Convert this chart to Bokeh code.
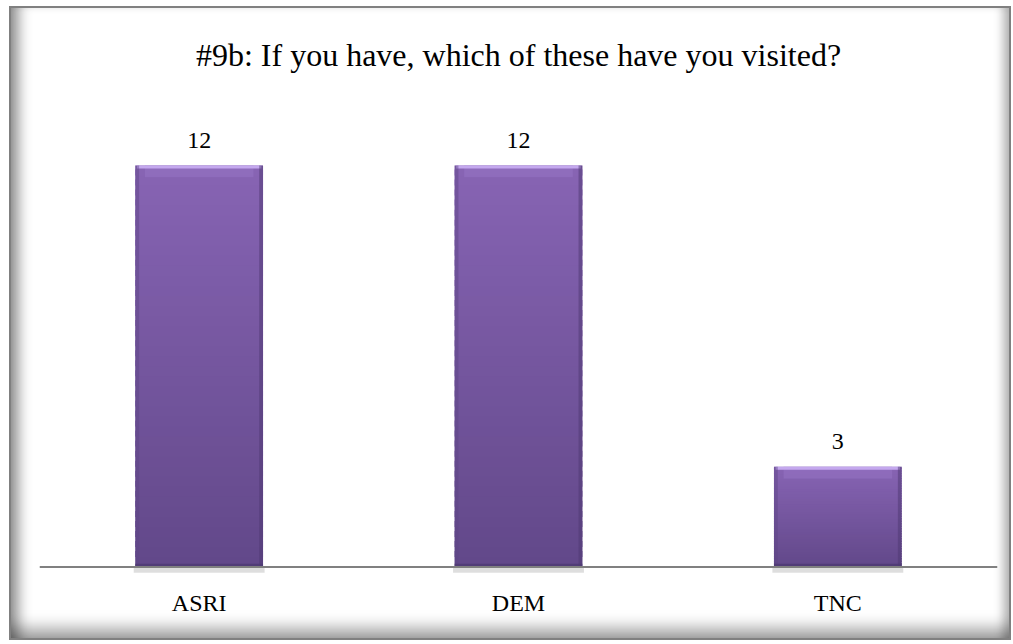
from bokeh.plotting import figure
from bokeh.models import ColumnDataSource, Span
from bokeh.transform import dodge
from bokeh.embed import file_html
from bokeh.resources import INLINE

categories = ["ASRI", "DEM", "TNC"]
counts = [12, 12, 3]
title_text = "#9b: If you have, which of these have you visited?"

BAR_W = 0.4
N = 40
top_rgb = (0x87, 0x64, 0xb4)
bot_rgb = (0x62, 0x48, 0x89)

def mix(a, b, t):
    return "#%02x%02x%02x" % tuple(int(round(a[i] + (b[i] - a[i]) * t)) for i in range(3))

# gradient slices built from the counts
gx, gb, gt, gc = [], [], [], []
for c, v in zip(categories, counts):
    for k in range(N):
        gx.append(c)
        gb.append(v * k / N)
        gt.append(min(v, v * (k + 1.6) / N))
        gc.append(mix(bot_rgb, top_rgb, (k + 0.5) / N))
grad = ColumnDataSource(dict(x=gx, bottom=gb, top=gt, color=gc))

src = ColumnDataSource(dict(
    x=categories,
    top=counts,
    label=[str(v) for v in counts],
    hl_bottom=[v - 0.09 for v in counts],
    zone_bottom=[v - 0.35 for v in counts],
))

p = figure(x_range=categories, y_range=(-0.4, 14), width=998, height=630,
           output_backend="svg", toolbar_location=None,
           min_border_left=28, min_border_right=12, min_border_top=89, min_border_bottom=58)
p.border_fill_color = None
p.background_fill_color = None
p.outline_line_color = None
p.styles = {
    "margin-left": "11px",
    "margin-top": "8px",
    "box-shadow": "0 0 0 2px #808080, inset 16px 0 14px -9px rgba(0,0,0,0.45), inset 0 -20px 16px -10px rgba(0,0,0,0.36), inset -12px 0 10px -6px rgba(0,0,0,0.28)",
}

# soft shadow under bars
p.vbar(x="x", top=0, bottom=-0.17, width=BAR_W + 0.01, source=src,
       fill_color="#000000", fill_alpha=0.13, line_color=None)

# bars (vertical gradient)
p.vbar(x="x", bottom="bottom", top="top", width=BAR_W, source=grad,
       fill_color="color", line_color=None)

# top bevel zone and highlight
p.vbar(x="x", bottom="zone_bottom", top="top", width=BAR_W - 0.06, source=src,
       fill_color="#9a78c8", fill_alpha=0.45, line_color=None)
p.vbar(x="x", bottom="hl_bottom", top="top", width=BAR_W - 0.01, source=src,
       fill_color="#c4a8ee", line_color=None)
# side edges
p.vbar(x=dodge("x", -BAR_W / 2 + 0.006, range=p.x_range), bottom=0, top="top", width=0.012,
       source=src, fill_color="#5e4585", fill_alpha=0.45, line_color=None)
p.vbar(x=dodge("x", BAR_W / 2 - 0.006, range=p.x_range), bottom=0, top="top", width=0.012,
       source=src, fill_color="#4e3872", fill_alpha=0.5, line_color=None)
# bottom edge
p.vbar(x="x", bottom=0, top=0.1, width=BAR_W, source=src,
       fill_color="#4e3a72", fill_alpha=0.8, line_color=None)

# value labels
p.text(x="x", y="top", text="label", source=src, text_align="center",
       text_baseline="alphabetic", y_offset=-25, text_font_size="24px",
       text_font={"value": "Liberation Serif"}, text_color="#000000")

# baseline
p.add_layout(Span(location=0, dimension="width", line_color="#808080", line_width=2))

p.title.text = title_text
p.title.align = "center"
p.title.text_font = "Liberation Serif"
p.title.text_font_size = "32px"
p.title.text_font_style = "normal"
p.title.text_color = "#000000"
p.title.standoff = 52

p.yaxis.visible = False
p.xgrid.visible = False
p.ygrid.visible = False
p.xaxis.axis_line_color = None
p.xaxis.major_tick_line_color = None
p.xaxis.minor_tick_line_color = None
p.xaxis.major_label_standoff = 3
p.xaxis.major_label_text_font = "Liberation Serif"
p.xaxis.major_label_text_font_size = "24px"
p.xaxis.major_label_text_color = "#000000"

open("out.html", "w").write(file_html(p, INLINE))
